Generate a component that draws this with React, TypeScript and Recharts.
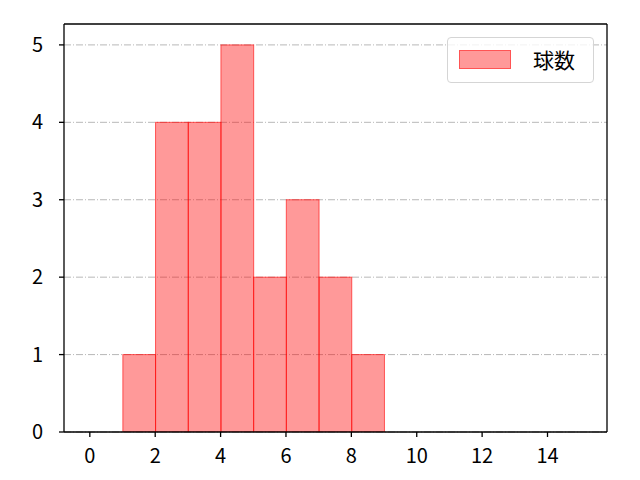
import React from "react";
import { ComposedChart, Bar, XAxis, YAxis, CartesianGrid, Legend } from "recharts";

const binStarts = [1, 2, 3, 4, 5, 6, 7, 8];
const counts = [1, 4, 4, 5, 2, 3, 2, 1];
const xTicks = [0, 2, 4, 6, 8, 10, 12, 14];
const yTicks = [0, 1, 2, 3, 4, 5];
const seriesName = "球数";

const data = binStarts.map((s, i) => ({ x: s + 0.5, count: counts[i] }));

const FONT = "'Noto Sans CJK JP', 'Noto Sans', sans-serif";
const X_MIN = -0.79;
const X_MAX = 15.82;
const Y_MAX = 5.27;
const PLOT_W = 544;
const BAR_W = PLOT_W / (X_MAX - X_MIN);

const LegendBox = () => (
  <div
    style={{
      position: "absolute",
      left: 447,
      top: 37,
      width: 147,
      height: 46,
      border: "1px solid #d5d5d5",
      borderRadius: 4,
      background: "rgba(255,255,255,0.8)",
      boxSizing: "border-box",
      fontFamily: FONT,
      fontSize: 21,
      color: "#000",
    }}
  >
    <div
      style={{
        position: "absolute",
        left: 11,
        top: 12,
        width: 52,
        height: 19,
        background: "rgba(255,0,0,0.4)",
        border: "1px solid rgba(255,0,0,0.45)",
        boxSizing: "border-box",
      }}
    />
    <div style={{ position: "absolute", left: 85, top: 6, lineHeight: "30px" }}>{seriesName}</div>
  </div>
);

const XTick = (props: any) => {
  const { x, y, payload } = props;
  return (
    <text x={x} y={y + 24} textAnchor="middle" fill="#000" fontSize={20} fontFamily={FONT}>
      {payload.value}
    </text>
  );
};

const YTick = (props: any) => {
  const { x, y, payload } = props;
  return (
    <text x={x - 14} y={y + 7} textAnchor="end" fill="#000" fontSize={20} fontFamily={FONT}>
      {payload.value}
    </text>
  );
};

const BinBar = (props: any) => {
  const { x, y, width, height } = props;
  if (!height || height <= 0) return null;
  const cx = x + width / 2;
  return (
    <rect
      x={cx - BAR_W / 2}
      y={y}
      width={BAR_W}
      height={height}
      fill="#ff0000"
      fillOpacity={0.4}
      stroke="#ff0000"
      strokeOpacity={0.6}
      strokeWidth={1}
    />
  );
};

export default function App() {
  return (
    <div style={{ position: "absolute", left: 0, top: 0, width: 640, height: 480, background: "#fff" }}>
      <ComposedChart
        width={640}
        height={480}
        data={data}
        margin={{ top: 23, right: 32, left: 0, bottom: 0 }}
        barCategoryGap={0}
        barGap={0}
        style={{ fontFamily: FONT }}
      >
        <XAxis
          dataKey="x"
          type="number"
          domain={[X_MIN, X_MAX]}
          ticks={xTicks}
          allowDataOverflow
          height={48}
          axisLine={{ stroke: "#000", strokeWidth: 1.3 }}
          tickLine={{ stroke: "#000", strokeWidth: 1.3 }}
          tickSize={5}
          tick={<XTick />}
        />
        <YAxis
          type="number"
          domain={[0, Y_MAX]}
          ticks={yTicks}
          allowDataOverflow
          width={64}
          axisLine={{ stroke: "#000", strokeWidth: 1.3 }}
          tickLine={{ stroke: "#000", strokeWidth: 1.3 }}
          tickSize={5}
          tick={<YTick />}
        />
        <YAxis
          yAxisId="right"
          orientation="right"
          type="number"
          domain={[0, Y_MAX]}
          allowDataOverflow
          width={1}
          tick={false}
          tickLine={false}
          axisLine={{ stroke: "#000", strokeWidth: 1.3 }}
        />
        <XAxis
          xAxisId="top"
          orientation="top"
          type="number"
          domain={[X_MIN, X_MAX]}
          allowDataOverflow
          height={1}
          tick={false}
          tickLine={false}
          axisLine={{ stroke: "#000", strokeWidth: 1.3 }}
        />
        <Bar
          dataKey="count"
          name={seriesName}
          barSize={BAR_W}
          shape={<BinBar />}
          fill="#ff0000"
          isAnimationActive={false}
        />
        <CartesianGrid
          vertical={false}
          stroke="#b0b0b0"
          strokeWidth={0.9}
          strokeDasharray="7 2 1 2"
          syncWithTicks
        />
        <Legend content={() => <LegendBox />} wrapperStyle={{ position: "absolute", left: 0, top: 0, width: 0, height: 0 }} />
      </ComposedChart>
    </div>
  );
}
